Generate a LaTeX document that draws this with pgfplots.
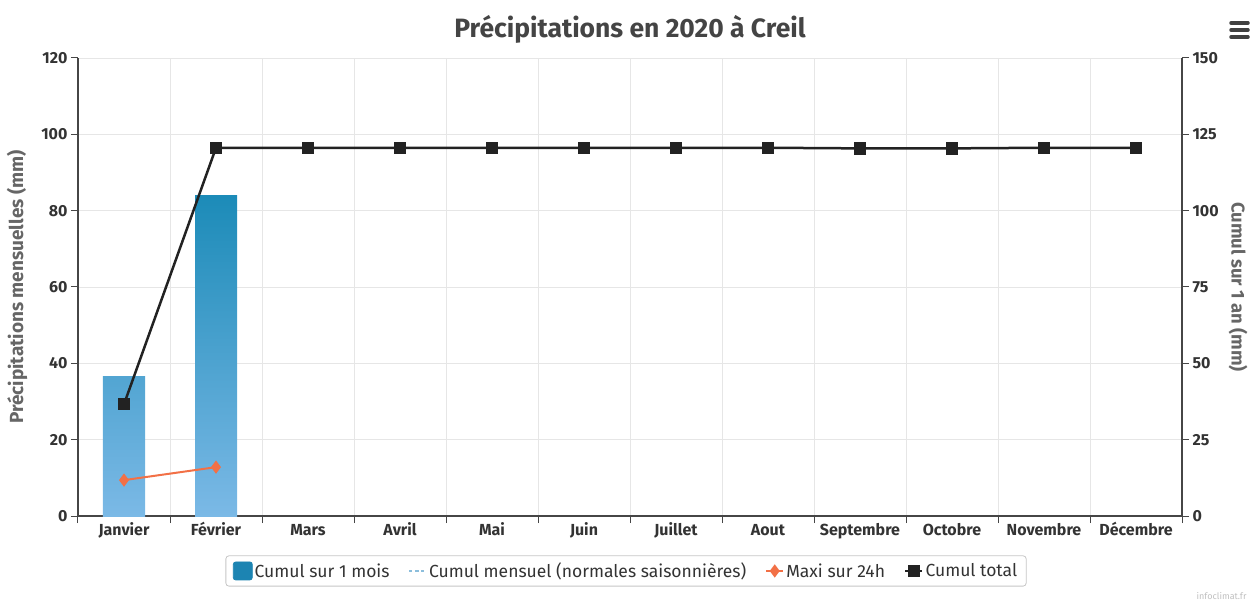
\documentclass[border=0pt]{standalone}
\usepackage{fontspec}
\setmainfont{Fira Sans}
\usepackage{pgfplots}
\pgfplotsset{compat=1.18}
\definecolor{febTop}{RGB}{28,139,184}
\definecolor{barBot}{RGB}{123,185,230}
\definecolor{janTop}{RGB}{82,165,210}
\definecolor{legBar}{RGB}{28,132,178}
\definecolor{orangeL}{RGB}{242,112,70}
\definecolor{normBlue}{RGB}{140,190,220}
\definecolor{cumBlack}{RGB}{34,34,34}
\definecolor{gridC}{RGB}{230,230,230}
\definecolor{axisC}{RGB}{70,70,70}
\definecolor{tickTxt}{RGB}{51,51,51}
\definecolor{labTxt}{RGB}{102,102,102}
\definecolor{titleTxt}{RGB}{68,68,68}
\pgfplotsset{
  common/.style={
    at={(0pt,0pt)}, anchor=south west, scale only axis,
    width=1104pt, height=458pt,
    xmin=-0.5, xmax=11.5,
    /pgf/number format/assume math mode=true,
    tick align=outside, major tick length=7pt,
    tick style={draw=axisC, line width=1pt},
    tick label style={font=\bfseries\fontsize{16}{19}\selectfont, text=tickTxt},
    axis line style={-, draw=axisC, line width=1.3pt},
  }
}
\begin{document}
\begin{tikzpicture}[x=1pt,y=1pt]
\useasboundingbox (-78,-89) rectangle (1177,516);
\begin{axis}[common,
  ymin=0, ymax=120, ytick={0,20,...,120},
  axis x line*=bottom, axis y line*=left,
  xtick={-0.5,0.5,...,11.5}, xticklabels={},
  extra x ticks={0,1,2,3,4,5,6,7,8,9,10,11},
  extra x tick labels={Janvier,Février,Mars,Avril,Mai,Juin,Juillet,Aout,Septembre,Octobre,Novembre,Décembre},
  extra x tick style={grid=none, major tick length=0pt, tick label style={yshift=-3pt, text height=13pt, text depth=3pt}},
  xmajorgrids, ymajorgrids,
  grid style={draw=gridC, line width=0.8pt},
  title={Précipitations en 2020 à Creil},
  title style={at={(0.5,1)}, anchor=center, yshift=23pt, font=\bfseries\fontsize{26.5}{30}\selectfont, text=titleTxt},
  ylabel={Précipitations mensuelles (mm)},
  ylabel style={at={(axis description cs:-0.0553,0.5)}, anchor=center, font=\bfseries\fontsize{19}{23}\selectfont, text=labTxt},
]
\addplot[ybar, bar width=42pt, bar shift=0pt, draw=none, top color=janTop, bottom color=barBot, forget plot] coordinates {(0,36.6)};
\addplot[ybar, bar width=42pt, bar shift=0pt, draw=none, top color=febTop, bottom color=barBot, forget plot] coordinates {(1,84.0)};
\addplot[orangeL, line width=2pt, mark=diamond*, mark size=5pt, forget plot] coordinates {(0,9.4) (1,12.8)};
\end{axis}
\begin{axis}[common,
  ymin=0, ymax=150, ytick={0,25,...,150},
  axis y line*=right, axis x line=none,
  ylabel={Cumul sur 1 an (mm)},
  ylabel style={at={(axis description cs:1.0507,0.5)}, anchor=center, rotate=180, font=\bfseries\fontsize{18.5}{22}\selectfont, text=labTxt},
  legend columns=-1,
  legend style={at={(0.4964,-0.12)}, anchor=center, draw=gray!45, rounded corners=3pt, line width=0.8pt,
     font=\fontsize{17.5}{21}\selectfont, text=tickTxt, inner xsep=7pt, inner ysep=5pt,
     /tikz/every even column/.append style={column sep=17pt}},
]
\addlegendimage{legend image code/.code={\fill[legBar, rounded corners=2.5pt] (0pt,-9pt) rectangle (19pt,9pt);}}
\addlegendentry{Cumul sur 1 mois}
\addlegendimage{normBlue, dashed, line width=1.4pt}
\addlegendentry{Cumul mensuel (normales saisonnières)}
\addlegendimage{orangeL, line width=2pt, mark=diamond*, mark size=5pt}
\addlegendentry{Maxi sur 24h}
\addplot[cumBlack, line width=2.5pt, mark=square*, mark size=5pt] coordinates {
 (0,36.6) (1,120.6) (2,120.6) (3,120.6) (4,120.6) (5,120.6) (6,120.6) (7,120.6) (8,120.4) (9,120.4) (10,120.6) (11,120.6)};
\addlegendentry{Cumul total}
\end{axis}
\draw[line width=3.5pt, line cap=round, draw=black!75] (1153,493) -- (1170,493) (1153,486) -- (1170,486) (1153,479) -- (1170,479);
\node[anchor=east, font=\fontsize{9}{10}\selectfont, text=gray!50] at (1172,-80) {infoclimat.fr};
\end{tikzpicture}
\end{document}
